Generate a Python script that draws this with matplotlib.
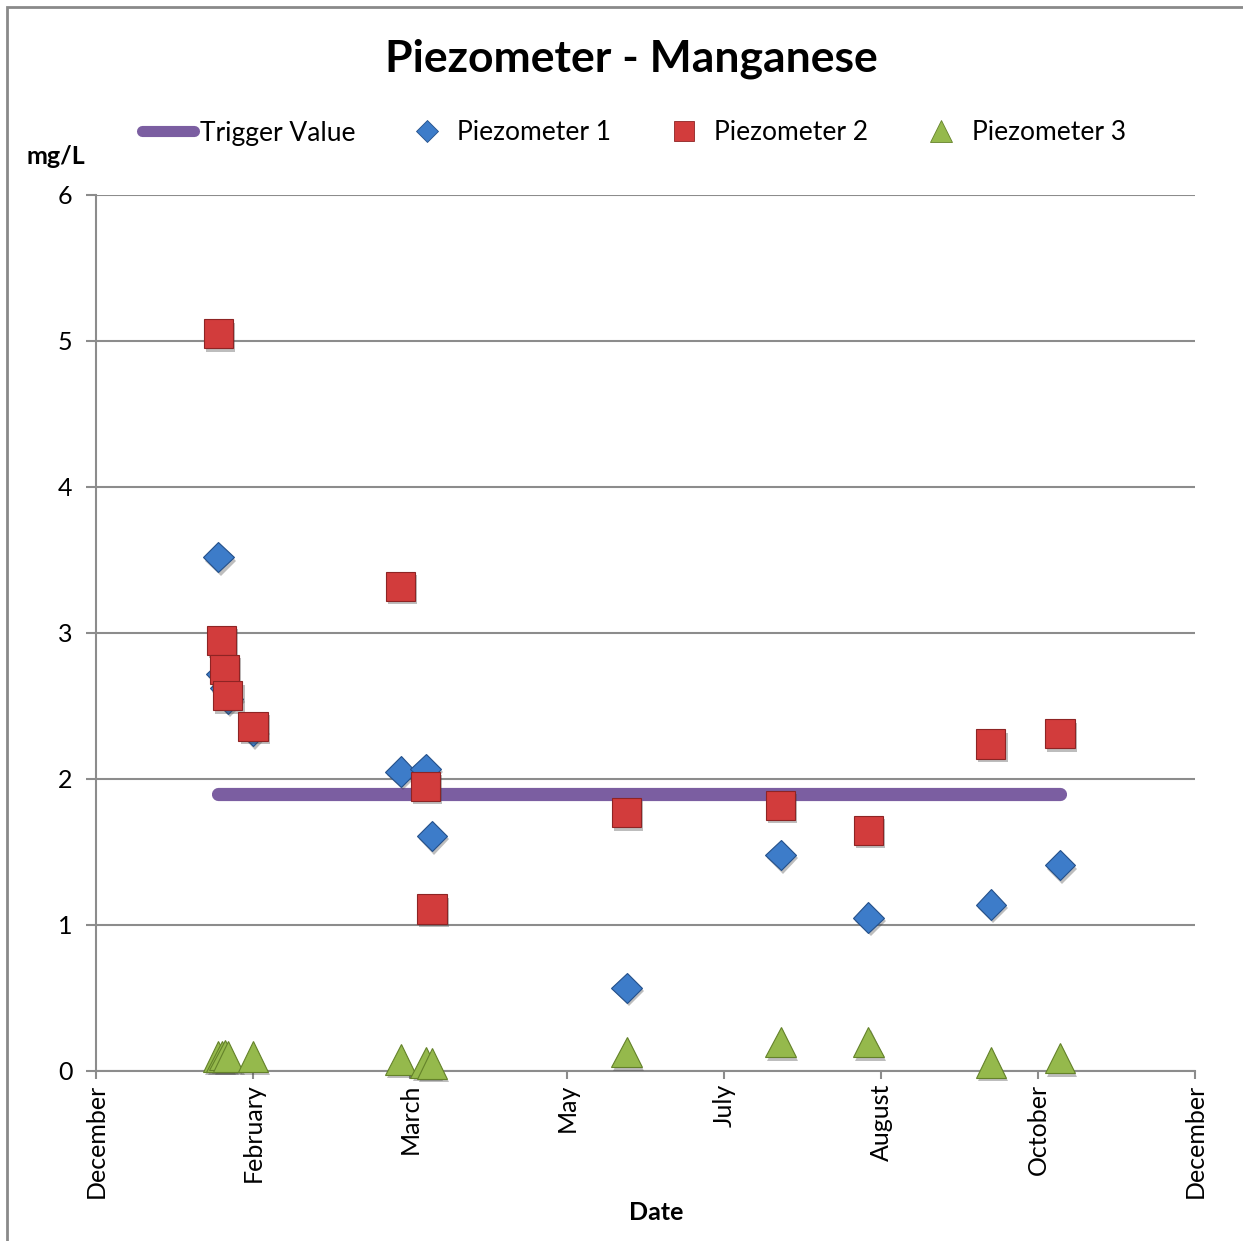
import matplotlib
matplotlib.use("Agg")
import matplotlib.pyplot as plt
import matplotlib.dates as mdates
from matplotlib.lines import Line2D
from matplotlib.patches import Rectangle
import matplotlib.patheffects as pe
import datetime as dt

plt.rcParams['font.family'] = ['Lato', 'DejaVu Sans']

# ---- data ----
dates = ["2011-01-26", "2011-01-27", "2011-01-28", "2011-01-29", "2011-02-06",
         "2011-03-25", "2011-04-02", "2011-04-04", "2011-06-05", "2011-07-24",
         "2011-08-21", "2011-09-29", "2011-10-21"]
piezo1 = [3.52, 2.72, 2.62, 2.55, 2.33, 2.05, 2.07, 1.61, 0.57, 1.48, 1.05, 1.14, 1.41]
piezo2 = [5.05, 2.95, 2.75, 2.57, 2.36, 3.32, 1.95, 1.11, 1.77, 1.82, 1.65, 2.24, 2.31]
piezo3 = [0.10, 0.10, 0.11, 0.10, 0.10, 0.08, 0.06, 0.05, 0.13, 0.20, 0.20, 0.06, 0.09]
trigger_dates = ["2011-01-26", "2011-10-21"]
trigger_values = [1.9, 1.9]
x_start = "2010-12-18"
tick_step_days = 50
n_ticks = 8
y_ticks = [0, 1, 2, 3, 4, 5, 6]

d = [dt.datetime.fromisoformat(s) for s in dates]
td = [dt.datetime.fromisoformat(s) for s in trigger_dates]
x0 = dt.datetime.fromisoformat(x_start)
xticks = [x0 + dt.timedelta(days=tick_step_days * i) for i in range(n_ticks)]

W, H = 1243, 1241
fig = plt.figure(figsize=(W / 100, H / 100), dpi=100)
ax = fig.add_axes([96 / W, 1 - 1071 / H, (1195 - 96) / W, (1071 - 195) / H])

grid_c = "#8c8c8c"
blue, blue_e = "#3d7cc9", "#24508a"
red, red_e = "#d23c3c", "#8e2424"
green, green_e = "#95b94c", "#64822a"
purple = "#7b5ea1"

shadow = [pe.SimplePatchShadow(offset=(1.5, -2.5), alpha=0.35, shadow_rgbFace="#444444"), pe.Normal()]

ax.plot(td, trigger_values, color=purple, lw=9.5, solid_capstyle="round", zorder=3)
ax.plot(d, piezo1, ls="none", marker="D", ms=15.5, mfc=blue, mec=blue_e, mew=0.8, zorder=4,
        path_effects=shadow, clip_on=False)
ax.plot(d, piezo2, ls="none", marker="s", ms=21, mfc=red, mec=red_e, mew=0.8, zorder=5,
        path_effects=shadow, clip_on=False)
ax.plot(d, piezo3, ls="none", marker="^", ms=22, mfc=green, mec=green_e, mew=0.8, zorder=6,
        path_effects=shadow, clip_on=False)

ax.set_xlim(xticks[0], xticks[-1])
ax.set_ylim(0, 6)
ax.set_xticks(xticks)
ax.xaxis.set_major_formatter(mdates.DateFormatter("%B"))
ax.set_yticks(y_ticks)
ax.grid(axis="y", color=grid_c, lw=1.5)
ax.set_axisbelow(True)
for s in ["top", "right"]:
    ax.spines[s].set_visible(False)
for s in ["left", "bottom"]:
    ax.spines[s].set_color(grid_c)
    ax.spines[s].set_linewidth(1.5)
ax.tick_params(axis="x", direction="out", length=6, width=1.5, color=grid_c,
               labelsize=18, labelrotation=90, pad=3)
ax.tick_params(axis="y", direction="out", length=7, width=1.5, color=grid_c,
               labelsize=18, pad=10)
for lab in ax.get_xticklabels():
    lab.set_verticalalignment("top")

fig.text(56 / W, 1 - 156 / H, "mg/L", fontsize=18, fontweight="bold", ha="center", va="center")
fig.text(656 / W, 1 - 1213 / H, "Date", fontsize=18, fontweight="bold", ha="center", va="center")
fig.text(631 / W, 1 - 59 / H, "Piezometer - Manganese", fontsize=32, fontweight="bold",
         ha="center", va="center")

# legend drawn in figure coordinates
ly = 1 - 131 / H
ty = 1 - 133 / H
fig.add_artist(Line2D([142 / W, 194 / W], [ly, ly], color=purple, lw=8, solid_capstyle="round"))
fig.text(200 / W, ty, "Trigger Value", fontsize=19, ha="left", va="center")
fig.add_artist(Line2D([427 / W], [ly], marker="D", ms=11, mfc=blue, mec=blue_e, mew=0.6, ls="none"))
fig.text(457 / W, ty, "Piezometer 1", fontsize=19, ha="left", va="center")
fig.add_artist(Line2D([684 / W], [ly], marker="s", ms=14, mfc=red, mec=red_e, mew=0.6, ls="none"))
fig.text(714 / W, ty, "Piezometer 2", fontsize=19, ha="left", va="center")
fig.add_artist(Line2D([941 / W], [ly], marker="^", ms=16, mfc=green, mec=green_e, mew=0.6, ls="none"))
fig.text(972 / W, ty, "Piezometer 3", fontsize=19, ha="left", va="center")

# chart frame
fig.add_artist(Rectangle((7 / W, -0.05), 1.2, 1.05 - 7 / H, transform=fig.transFigure,
                         fill=False, edgecolor="#8a8a8a", lw=2))

fig.savefig("out.png", dpi=100)
